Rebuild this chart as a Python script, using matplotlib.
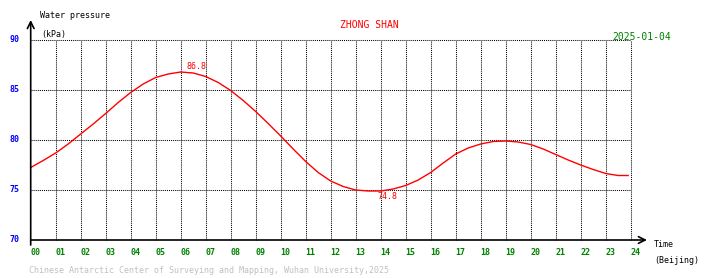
import numpy as np
import matplotlib.pyplot as plt

# half-hourly water pressure (kPa)
hours = [0, 0.5, 1, 1.5, 2, 2.5, 3, 3.5, 4, 4.5, 5, 5.5, 6, 6.5, 7, 7.5, 8, 8.5,
         9, 9.5, 10, 10.5, 11, 11.5, 12, 12.5, 13, 13.5, 14, 14.5, 15, 15.5, 16,
         16.5, 17, 17.5, 18, 18.5, 19, 19.5, 20, 20.5, 21, 21.5, 22, 22.5, 23,
         23.5, 23.9]
pressure = [77.25, 77.95, 78.7, 79.6, 80.6, 81.6, 82.65, 83.75, 84.75, 85.6,
            86.25, 86.6, 86.8, 86.7, 86.35, 85.75, 84.95, 83.95, 82.85, 81.65,
            80.4, 79.1, 77.85, 76.75, 75.9, 75.35, 75.0, 74.9, 74.9, 75.1, 75.45,
            76.0, 76.75, 77.7, 78.6, 79.2, 79.6, 79.85, 79.9, 79.8, 79.55, 79.1,
            78.55, 78.0, 77.5, 77.05, 76.65, 76.45, 76.45]
yticks = [70, 75, 80, 85, 90]
xtick_labels = ['%02d' % h for h in range(25)]
peak = (6.0, 86.8)
low = (13.8, 74.8)

mono = 'DejaVu Sans Mono'
fig = plt.figure(figsize=(7.1, 2.78), dpi=100)
W, H = 710, 278
ax = fig.add_axes([30.7 / W, (H - 240) / H, 600 / W, 200 / H])
ax.set_xlim(0, 24)
ax.set_ylim(70, 90)
ax.axis('off')

dot = (0, (1, 1))
ax.vlines(range(1, 25), 70, 90, colors='black', linestyles=dot, lw=0.75, clip_on=False)
ax.hlines(yticks[1:], 0, 24, colors='black', linestyles=dot, lw=0.75, clip_on=False)

# axes with arrows
arrow = dict(arrowstyle='->', lw=1.2, color='black', shrinkA=0, shrinkB=0,
             mutation_scale=12)
ax.annotate('', xy=(24.65, 70), xytext=(0, 70), annotation_clip=False, arrowprops=arrow)
ax.annotate('', xy=(0, 92.0), xytext=(0, 69.5), annotation_clip=False, arrowprops=arrow)

ax.plot(hours, pressure, color='red', lw=1.0, clip_on=False)

for v in yticks:
    ax.text(-0.43, v, str(v), color='blue', fontsize=6, family=mono,
            ha='right', va='center', fontweight='bold')
for i, lab in enumerate(xtick_labels):
    ax.text(i, 68.77, lab, color='green', fontsize=6, family=mono,
            ha='left', va='center', fontweight='bold')

ax.text(0.37, 92.4, 'Water pressure', fontsize=6, family=mono, va='center')
ax.text(0.41, 90.6, '(kPa)', fontsize=6, family=mono, va='center')
ax.text(24.94, 69.57, 'Time', fontsize=6, family=mono, va='center')
ax.text(24.94, 67.97, '(Beijing)', fontsize=6, family=mono, va='center')
ax.text(13.54, 91.5, 'ZHONG SHAN', color='red', fontsize=7, family=mono,
        ha='center', va='center')
ax.text(25.6, 90.33, '2025-01-04', color='green', fontsize=7, family=mono,
        ha='right', va='center')
ax.text(peak[0] + 0.63, peak[1] + 0.53, '%.1f' % peak[1], color='red', fontsize=6,
        family=mono, ha='center', va='center')
ax.text(low[0] + 0.49, low[1] - 0.4, '%.1f' % low[1], color='red', fontsize=6,
        family=mono, ha='center', va='center')
ax.text(-0.06, 66.97, 'Chinese Antarctic Center of Surveying and Mapping, Wuhan University,2025',
        color='#c0c0c0', fontsize=6, family=mono, ha='left', va='center')

fig.savefig('out.png', dpi=100)
